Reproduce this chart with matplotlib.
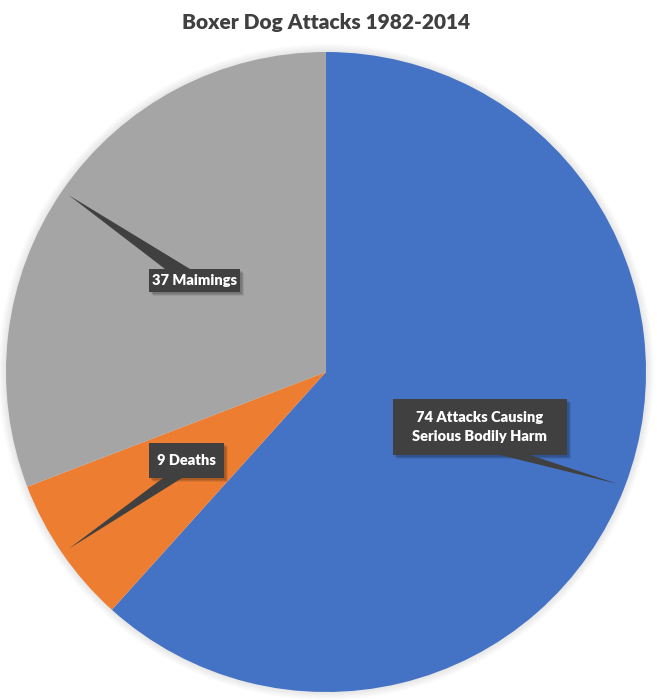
import numpy as np
import matplotlib
matplotlib.use("Agg")
import matplotlib.pyplot as plt
from matplotlib.patches import Rectangle, Polygon, Circle

# data
labels = ["74 Attacks Causing\nSerious Bodily Harm", "9 Deaths", "37 Maimings"]
values = [74, 9, 37]
colors = ["#4472C4", "#ED7D31", "#A5A5A5"]
title = "Boxer Dog Attacks 1982-2014"

W, H = 657, 700
plt.rcParams['font.family'] = ['Lato', 'DejaVu Sans']

fig = plt.figure(figsize=(W / 100, H / 100), dpi=100)
ax = fig.add_axes([0, 0, 1, 1])

cx, cy, r = 326, H - 372, 320

# soft glow around the pie
for k in range(8, 0, -1):
    ax.add_patch(Circle((cx, cy), r + k, color="#000000", alpha=0.012, lw=0, zorder=0))

wedges, _ = ax.pie(values, colors=colors, startangle=90, counterclock=False,
                   center=(cx, cy), radius=r, frame=True,
                   wedgeprops=dict(linewidth=0))

# callout boxes: (x0, y0, x1, y1) in pixels from top, tail base side, tail base x range
boxes = [
    (393, 399, 567, 455, "bottom", (500, 530)),
    (149, 443, 224, 478, "bottom", (163, 182)),
    (149, 269, 240, 292, "top", (165, 190)),
]

for w, lab, (x0, y0, x1, y1, side, (bx0, bx1)) in zip(wedges, labels, boxes):
    mid = np.deg2rad((w.theta1 + w.theta2) / 2)
    tip = (cx + 0.975 * r * np.cos(mid), cy + 0.975 * r * np.sin(mid))
    by = H - (y1 if side == "bottom" else y0)
    yb1 = H - y1
    # shadow
    for s, a in ((4, 0.08), (3, 0.1), (2, 0.12)):
        ax.add_patch(Rectangle((x0 + s, yb1 - s), x1 - x0, y1 - y0, color="#000000",
                               alpha=a, lw=0, zorder=3))
    ax.add_patch(Polygon([(bx0, by), tip, (bx1, by)], closed=True,
                         color="#404040", lw=0, zorder=4))
    ax.add_patch(Rectangle((x0, yb1), x1 - x0, y1 - y0, color="#404040",
                           lw=0, zorder=4))
    ax.text((x0 + x1) / 2, H - (y0 + y1) / 2, lab, color="white",
            fontsize=10.5, fontweight="heavy", ha="center", va="center",
            linespacing=1.55, zorder=5)

ax.text(326, H - 23, title, fontsize=15, fontweight="heavy", color="#404040",
        ha="center", va="center")

ax.set_xlim(0, W)
ax.set_ylim(0, H)
ax.set_aspect("equal")
ax.axis("off")

fig.savefig("out.png", dpi=100, facecolor="white")
